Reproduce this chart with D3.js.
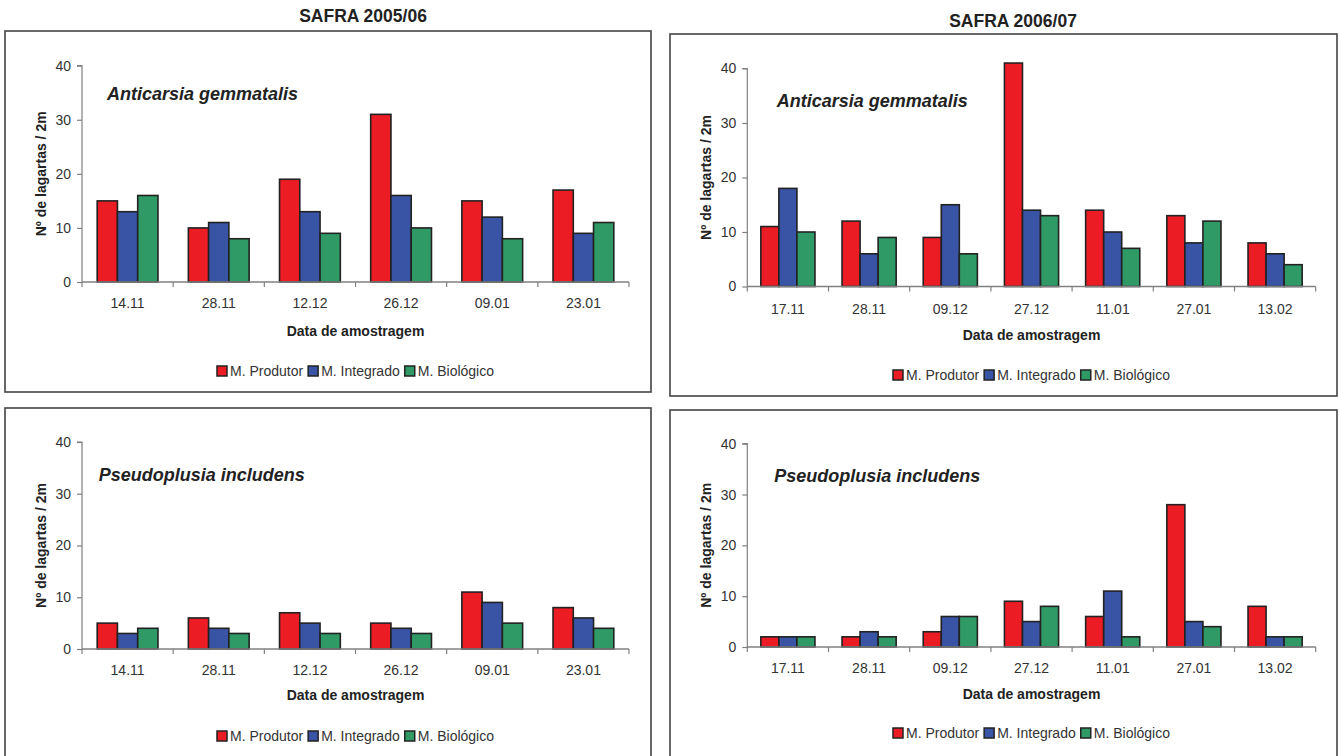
<!DOCTYPE html>
<html>
<head>
<meta charset="utf-8">
<script src="https://cdn.jsdelivr.net/npm/d3@7"></script>
<style>
  html, body { margin: 0; padding: 0; background: #fff; }
  svg { display: block; font-family: "Liberation Sans", Arial, sans-serif; }
</style>
</head>
<body>
<svg id="chart" width="1339" height="756"></svg>
<script>
// Sampling dates for each season
const dates0506 = ["14.11", "28.11", "12.12", "26.12", "09.01", "23.01"];
const dates0607 = ["17.11", "28.11", "09.12", "27.12", "11.01", "27.01", "13.02"];

// Management systems (legend entries)
const systems = ["M. Produtor", "M. Integrado", "M. Biológico"];

// Anticarsia gemmatalis, 2005/06
const ag0506Produtor  = [15, 10, 19, 31, 15, 17];
const ag0506Integrado = [13, 11, 13, 16, 12, 9];
const ag0506Biologico = [16, 8, 9, 10, 8, 11];

// Anticarsia gemmatalis, 2006/07
const ag0607Produtor  = [11, 12, 9, 41, 14, 13, 8];
const ag0607Integrado = [18, 6, 15, 14, 10, 8, 6];
const ag0607Biologico = [10, 9, 6, 13, 7, 12, 4];

// Pseudoplusia includens, 2005/06
const pi0506Produtor  = [5, 6, 7, 5, 11, 8];
const pi0506Integrado = [3, 4, 5, 4, 9, 6];
const pi0506Biologico = [4, 3, 3, 3, 5, 4];

// Pseudoplusia includens, 2006/07
const pi0607Produtor  = [2, 2, 3, 9, 6, 28, 8];
const pi0607Integrado = [2, 3, 6, 5, 11, 5, 2];
const pi0607Biologico = [2, 2, 6, 8, 2, 4, 2];

const yTicks = [0, 10, 20, 30, 40];
const seasonTitles = ["SAFRA 2005/06", "SAFRA 2006/07"];
const speciesNames = ["Anticarsia gemmatalis", "Pseudoplusia includens"];
const yTitle = "Nº de lagartas / 2m";
const xTitle = "Data de amostragem";

const colors = ["#ec1c24", "#3953a5", "#2f9a65"];

// Panel layout: frame box, plot extents and text anchors
const panels = [
  { dates: dates0506, series: [ag0506Produtor, ag0506Integrado, ag0506Biologico], species: speciesNames[0],
    frame: [5, 31, 646, 361], x0: 82, x1: 629, yTop: 65.7, yZero: 282,
    sp: [107, 99.5], tickY: 308, titleY: 336, legendY: 371 },
  { dates: dates0607, series: [ag0607Produtor, ag0607Integrado, ag0607Biologico], species: speciesNames[0],
    frame: [670, 34, 667, 362], x0: 747.3, x1: 1315.7, yTop: 68.5, yZero: 286.5,
    sp: [776.7, 107], tickY: 314, titleY: 340, legendY: 375 },
  { dates: dates0506, series: [pi0506Produtor, pi0506Integrado, pi0506Biologico], species: speciesNames[1],
    frame: [5, 408, 646, 360], x0: 82, x1: 629, yTop: 442, yZero: 649,
    sp: [98.7, 481], tickY: 675, titleY: 700, legendY: 736 },
  { dates: dates0607, series: [pi0607Produtor, pi0607Integrado, pi0607Biologico], species: speciesNames[1],
    frame: [670, 410, 667, 360], x0: 747.3, x1: 1315.7, yTop: 443.7, yZero: 647,
    sp: [774.3, 482.3], tickY: 673, titleY: 699, legendY: 733 }
];

const svg = d3.select("#chart");

// Season headings
svg.append("text").attr("x", 363).attr("y", 22).attr("text-anchor", "middle")
  .attr("font-weight", "bold").attr("font-size", 17.5).attr("fill", "#222").text(seasonTitles[0]);
svg.append("text").attr("x", 1013).attr("y", 27).attr("text-anchor", "middle")
  .attr("font-weight", "bold").attr("font-size", 17.5).attr("fill", "#222").text(seasonTitles[1]);

panels.forEach(p => {
  const g = svg.append("g");

  // Outer frame
  g.append("rect")
    .attr("x", p.frame[0]).attr("y", p.frame[1])
    .attr("width", p.frame[2]).attr("height", p.frame[3])
    .attr("fill", "#fff").attr("stroke", "#444").attr("stroke-width", 1.6);

  const x = d3.scaleBand().domain(p.dates).range([p.x0, p.x1]).paddingInner(0).paddingOuter(0);
  const inner = d3.scaleBand().domain(systems).range([0, x.bandwidth()]).paddingInner(0).paddingOuter(0.75);
  const y = d3.scaleLinear().domain([0, 40]).range([p.yZero, p.yTop]);

  // Y axis
  const yAxis = g.append("g").attr("transform", `translate(${p.x0},0)`)
    .call(d3.axisLeft(y).tickValues(yTicks).tickSize(5).tickPadding(6));
  yAxis.select(".domain").attr("stroke", "#808080").attr("stroke-width", 1.2)
    .attr("d", `M-5,${y(40)}H0V${y(0)}`);
  yAxis.selectAll(".tick line").attr("stroke", "#808080").attr("stroke-width", 1.2);
  yAxis.selectAll(".tick text").attr("font-size", 14).attr("fill", "#333")
    .attr("font-family", "Liberation Sans, Arial, sans-serif");

  // Bars
  p.series.forEach((vals, si) => {
    g.append("g").selectAll("rect").data(vals).join("rect")
      .attr("x", (d, i) => x(p.dates[i]) + inner(systems[si]))
      .attr("y", d => y(d))
      .attr("width", inner.bandwidth())
      .attr("height", d => y(0) - y(d))
      .attr("fill", colors[si])
      .attr("stroke", "#222").attr("stroke-width", 1.6);
  });

  // X axis with category boundary ticks
  const xAxis = g.append("g").attr("transform", `translate(0,${p.yZero})`);
  xAxis.append("path").attr("d", `M${p.x0},0H${p.x1}`).attr("stroke", "#808080").attr("stroke-width", 1.4).attr("fill", "none");
  const bounds = p.dates.map(d => x(d)).concat([p.x1]);
  xAxis.selectAll("line.b").data(bounds).join("line").attr("class", "b")
    .attr("x1", d => d).attr("x2", d => d).attr("y1", 0).attr("y2", 5)
    .attr("stroke", "#808080").attr("stroke-width", 1.2);
  g.append("g").selectAll("text").data(p.dates).join("text")
    .attr("x", d => x(d) + x.bandwidth() / 2).attr("y", p.tickY)
    .attr("text-anchor", "middle").attr("font-size", 14).attr("fill", "#333").text(d => d);

  // Axis titles
  const cx = (p.x0 + p.x1) / 2;
  g.append("text").attr("x", cx).attr("y", p.titleY).attr("text-anchor", "middle")
    .attr("font-size", 14).attr("font-weight", "bold").attr("fill", "#222").text(xTitle);
  const cy = (p.yTop + p.yZero) / 2;
  g.append("text").attr("transform", `translate(${p.x0 - 36},${cy}) rotate(-90)`)
    .attr("text-anchor", "middle").attr("font-size", 14).attr("font-weight", "bold").attr("fill", "#222").text(yTitle);

  // Species label
  g.append("text").attr("x", p.sp[0]).attr("y", p.sp[1])
    .attr("font-size", 18).attr("font-weight", "bold").attr("font-style", "italic").attr("fill", "#222")
    .text(p.species);

  // Legend
  const lg = g.append("g");
  let off = 0;
  systems.forEach((name, i) => {
    const item = lg.append("g").attr("transform", `translate(${off},0)`);
    item.append("rect").attr("x", 0).attr("y", -5).attr("width", 10).attr("height", 10)
      .attr("fill", colors[i]).attr("stroke", "#222").attr("stroke-width", 1.5);
    const t = item.append("text").attr("x", 13).attr("y", 5).attr("font-size", 14).attr("fill", "#333").text(name);
    off += 13 + t.node().getComputedTextLength() + 5;
  });
  const total = off - 5;
  lg.attr("transform", `translate(${cx - total / 2},${p.legendY})`);
});
</script>
</body>
</html>
